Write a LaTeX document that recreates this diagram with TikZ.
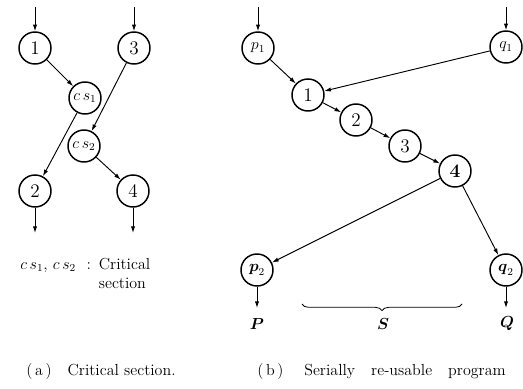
\documentclass[tikz,border=0pt]{standalone}
\usepackage{amsmath,amssymb}
\usepackage{fontspec}
\usetikzlibrary{arrows.meta,positioning,decorations.pathreplacing}
\tikzset{
    circnode/.style={
        circle,
        draw,
        line width=1.1pt,
        minimum size=24pt,
        inner sep=0pt,
        font=\Large
    },
    % small math node inside a circle
    mathnode/.style={
        circnode,
        font=\large
    },
    flowarrow/.style={
        line width=0.7pt,
        black,
        -{Latex[length=5pt,width=3.2pt]}
    },
    captext/.style={
        anchor=west,
        inner sep=0pt,
        font=\large\addfontfeature{LetterSpace=8}
    }
}

\begin{document}
\begin{tikzpicture}[x=0.75pt,y=-0.75pt]
\useasboundingbox (0,0) rectangle (523,388);
% ===================== (a) Critical section =====================
\begin{scope}
\node[circnode] (a1) at (35,48) {1};
\node[circnode] (a3) at (134,48) {3};
\node[mathnode] (cs1) at (85,98) {$c\,s_{1}$};
\node[mathnode] (cs2) at (84,146) {$c\,s_{2}$};
\node[circnode] (a2) at (35,191) {2};
\node[circnode] (a4) at (133,191) {4};

\coordinate (a1in) at (35,7);
\coordinate (a3in) at (134,7);
\coordinate (a2out) at (35,233);
\coordinate (a4out) at (133,233);

\draw[flowarrow] (a1in) -- (a1);
\draw[flowarrow] (a3in) -- (a3);
\draw[flowarrow] (a1) -- (cs1);
\draw[flowarrow] (cs1) -- (a2);
\draw[flowarrow] (a3) -- (cs2);
\draw[flowarrow] (cs2) -- (a4);
\draw[flowarrow] (a2) -- (a2out);
\draw[flowarrow] (a4) -- (a4out);

\node[anchor=north west,inner sep=0pt,font=\large\addfontfeature{LetterSpace=8}] (cslabel) at (20,256)
    {\begin{tabular}{@{}l@{\enspace}l@{}}$c\,s_{1}$,\ $c\,s_{2}$\ \ : & Critical\\ & section\end{tabular}};
\node[captext] (capa) at (26,372) {(\,a\,)\quad Critical\ section.};
\end{scope}

% ===================== (b) Serially re-usable program =====================
\begin{scope}
\node[mathnode] (p1) at (258,48) {$p_{1}$};
\node[mathnode] (q1) at (506,47) {$q_{1}$};
\node[circnode] (b1) at (308,95) {1};
\node[circnode] (b2) at (356,120) {2};
\node[circnode] (b3) at (405,146) {3};
\node[circnode,font=\Large\bfseries] (b4) at (455,171) {4};
\node[mathnode] (p2) at (257,270) {$\boldsymbol{p}_{2}$};
\node[mathnode] (q2) at (506,270) {$\boldsymbol{q}_{2}$};

\coordinate (p1in) at (258,7);
\coordinate (q1in) at (506,7);
\coordinate (p2out) at (257,308);
\coordinate (q2out) at (506,308);

\draw[flowarrow] (p1in) -- (p1);
\draw[flowarrow] (q1in) -- (q1);
\draw[flowarrow] (p1) -- (b1);
\draw[flowarrow] (q1) -- (b1);
\draw[flowarrow] (b1) -- (b2);
\draw[flowarrow] (b2) -- (b3);
\draw[flowarrow] (b3) -- (b4);
\draw[flowarrow] (b4) -- (p2);
\draw[flowarrow] (b4) -- (q2);
\draw[flowarrow] (p2) -- (p2out);
\draw[flowarrow] (q2) -- (q2out);

\node[font=\large] (plabel) at (257,324) {$\boldsymbol{P}$};
\node[font=\large] (slabel) at (383,324) {$\boldsymbol{S}$};
\node[font=\large] (qlabel) at (507,324) {$\boldsymbol{Q}$};

\coordinate (braceL) at (302,304);
\coordinate (braceR) at (462,304);
\draw[line width=0.6pt,decorate,decoration={brace,mirror,amplitude=5pt}] (braceL) -- (braceR);

\node[captext] (capb) at (257,372) {(\,b\,)\hspace{1.3em}Serially\hspace{1em}re-usable\hspace{1em}program};
\end{scope}
\end{tikzpicture}
\end{document}
